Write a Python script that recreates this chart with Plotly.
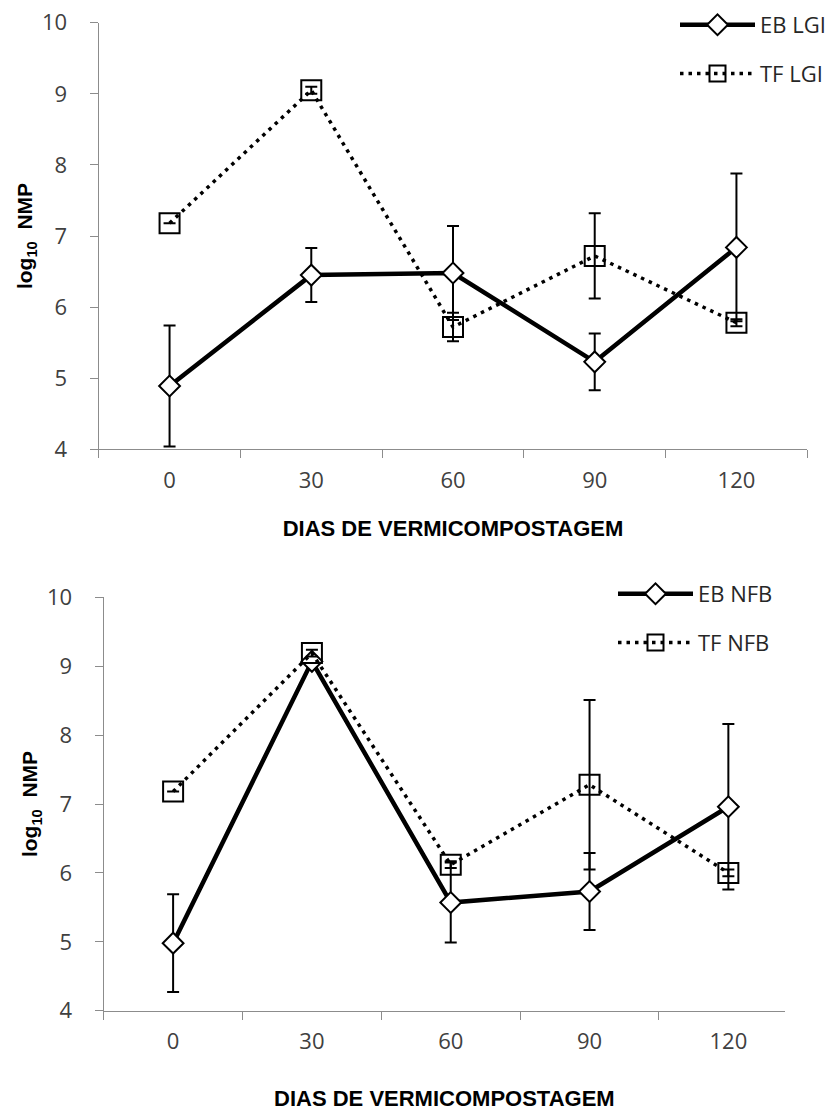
import plotly.graph_objects as go

days = ["0", "30", "60", "90", "120"]

eb_lgi = [4.89, 6.45, 6.48, 5.23, 6.84]
eb_lgi_err = [0.85, 0.38, 0.66, 0.40, 1.04]
tf_lgi = [7.18, 9.05, 5.72, 6.72, 5.78]
tf_lgi_err = [None, 0.05, 0.20, 0.60, 0.05]

eb_nfb = [4.98, 9.07, 5.57, 5.73, 6.96]
eb_nfb_err = [0.71, 0.05, 0.58, 0.56, 1.20]
tf_nfb = [7.18, 9.19, 6.12, 7.28, 6.00]
tf_nfb_err = [None, 0.05, 0.05, 1.23, 0.05]

W, H = 833, 1111


def px_x(a, b):
    return [a / W, b / W]


def px_y(top, bottom):
    return [1 - bottom / H, 1 - top / H]


def eb_trace(y, err, name, xa, ya, leg):
    return go.Scatter(
        x=days, y=y, name=name, xaxis=xa, yaxis=ya, legend=leg, legendgroup=name,
        mode="lines+markers",
        line=dict(color="black", width=4.5),
        marker=dict(symbol="diamond", size=16, color="white",
                    line=dict(color="black", width=2)),
        error_y=dict(type="data", array=err, visible=True, color="black",
                     thickness=2, width=6),
    )


def tf_trace(y, err, name, xa, ya, leg):
    return go.Scatter(
        x=days, y=y, name=name, xaxis=xa, yaxis=ya, legend=leg, legendgroup=name,
        mode="lines+markers",
        line=dict(color="black", width=3.5, dash="3.5px,5px"),
        marker=dict(symbol="square-open", size=20, color="black",
                    line=dict(color="black", width=2)),
        error_y=dict(type="data", array=err, visible=True, color="black",
                     thickness=2, width=6),
    )


fig = go.Figure()
fig.add_trace(eb_trace(eb_lgi, eb_lgi_err, "EB LGI", "x", "y", "legend"))
fig.add_trace(tf_trace(tf_lgi, tf_lgi_err, "TF LGI", "x", "y", "legend"))
fig.add_trace(eb_trace(eb_nfb, eb_nfb_err, "EB NFB", "x2", "y2", "legend2"))
fig.add_trace(tf_trace(tf_nfb, tf_nfb_err, "TF NFB", "x2", "y2", "legend2"))

tick_font = dict(family="Open Sans", size=22, color="#404040")
title_font = dict(family="Liberation Sans", size=22, color="black")
ytitle_font = dict(family="Liberation Sans", size=21, color="black")
axis_common = dict(showgrid=False, zeroline=False, showline=True, automargin=False,
                   linecolor="#8c8c8c", linewidth=1.3, ticks="outside",
                   tickcolor="#8c8c8c", tickwidth=1.3, ticklen=8,
                   tickfont=tick_font)

xcommon = dict(axis_common, type="category", tickson="boundaries",
               categoryorder="array", categoryarray=days, ticklabelstandoff=11)
ycommon = dict(axis_common, range=[4, 10], dtick=1, tick0=4, ticklabelstandoff=18)

leg_common = dict(font=dict(family="Open Sans", size=22, color="#262626"),
                  bgcolor="rgba(0,0,0,0)", tracegroupgap=17, itemwidth=75,
                  xanchor="left", yanchor="top", traceorder="grouped")

ytitle = "<b>log<sub>10</sub>&nbsp; NMP</b>"
xtitle = "<b>DIAS DE VERMICOMPOSTAGEM</b>"

fig.update_layout(
    width=W, height=H,
    margin=dict(l=0, r=0, t=0, b=0, autoexpand=False),
    paper_bgcolor="white", plot_bgcolor="white",
    xaxis=dict(xcommon, domain=px_x(98.7, 807.3), anchor="y", range=[-0.5, 4.5],
               title=dict(text=xtitle, font=title_font, standoff=27)),
    yaxis=dict(ycommon, domain=px_y(22.7, 449.3), anchor="x",
               title=dict(text=ytitle, font=ytitle_font, standoff=3)),
    xaxis2=dict(xcommon, domain=px_x(103.7, 785), anchor="y2", range=[-0.5, 4.408],
                title=dict(text=xtitle, font=title_font, standoff=41)),
    yaxis2=dict(ycommon, domain=px_y(597.3, 1010.7), anchor="x2",
                title=dict(text=ytitle, font=ytitle_font, standoff=3)),
    legend=dict(leg_common, x=675 / W, y=1 - 4 / H),
    legend2=dict(leg_common, x=613 / W, y=1 - 573 / H),
    showlegend=True,
)

fig.write_html("out.html")
